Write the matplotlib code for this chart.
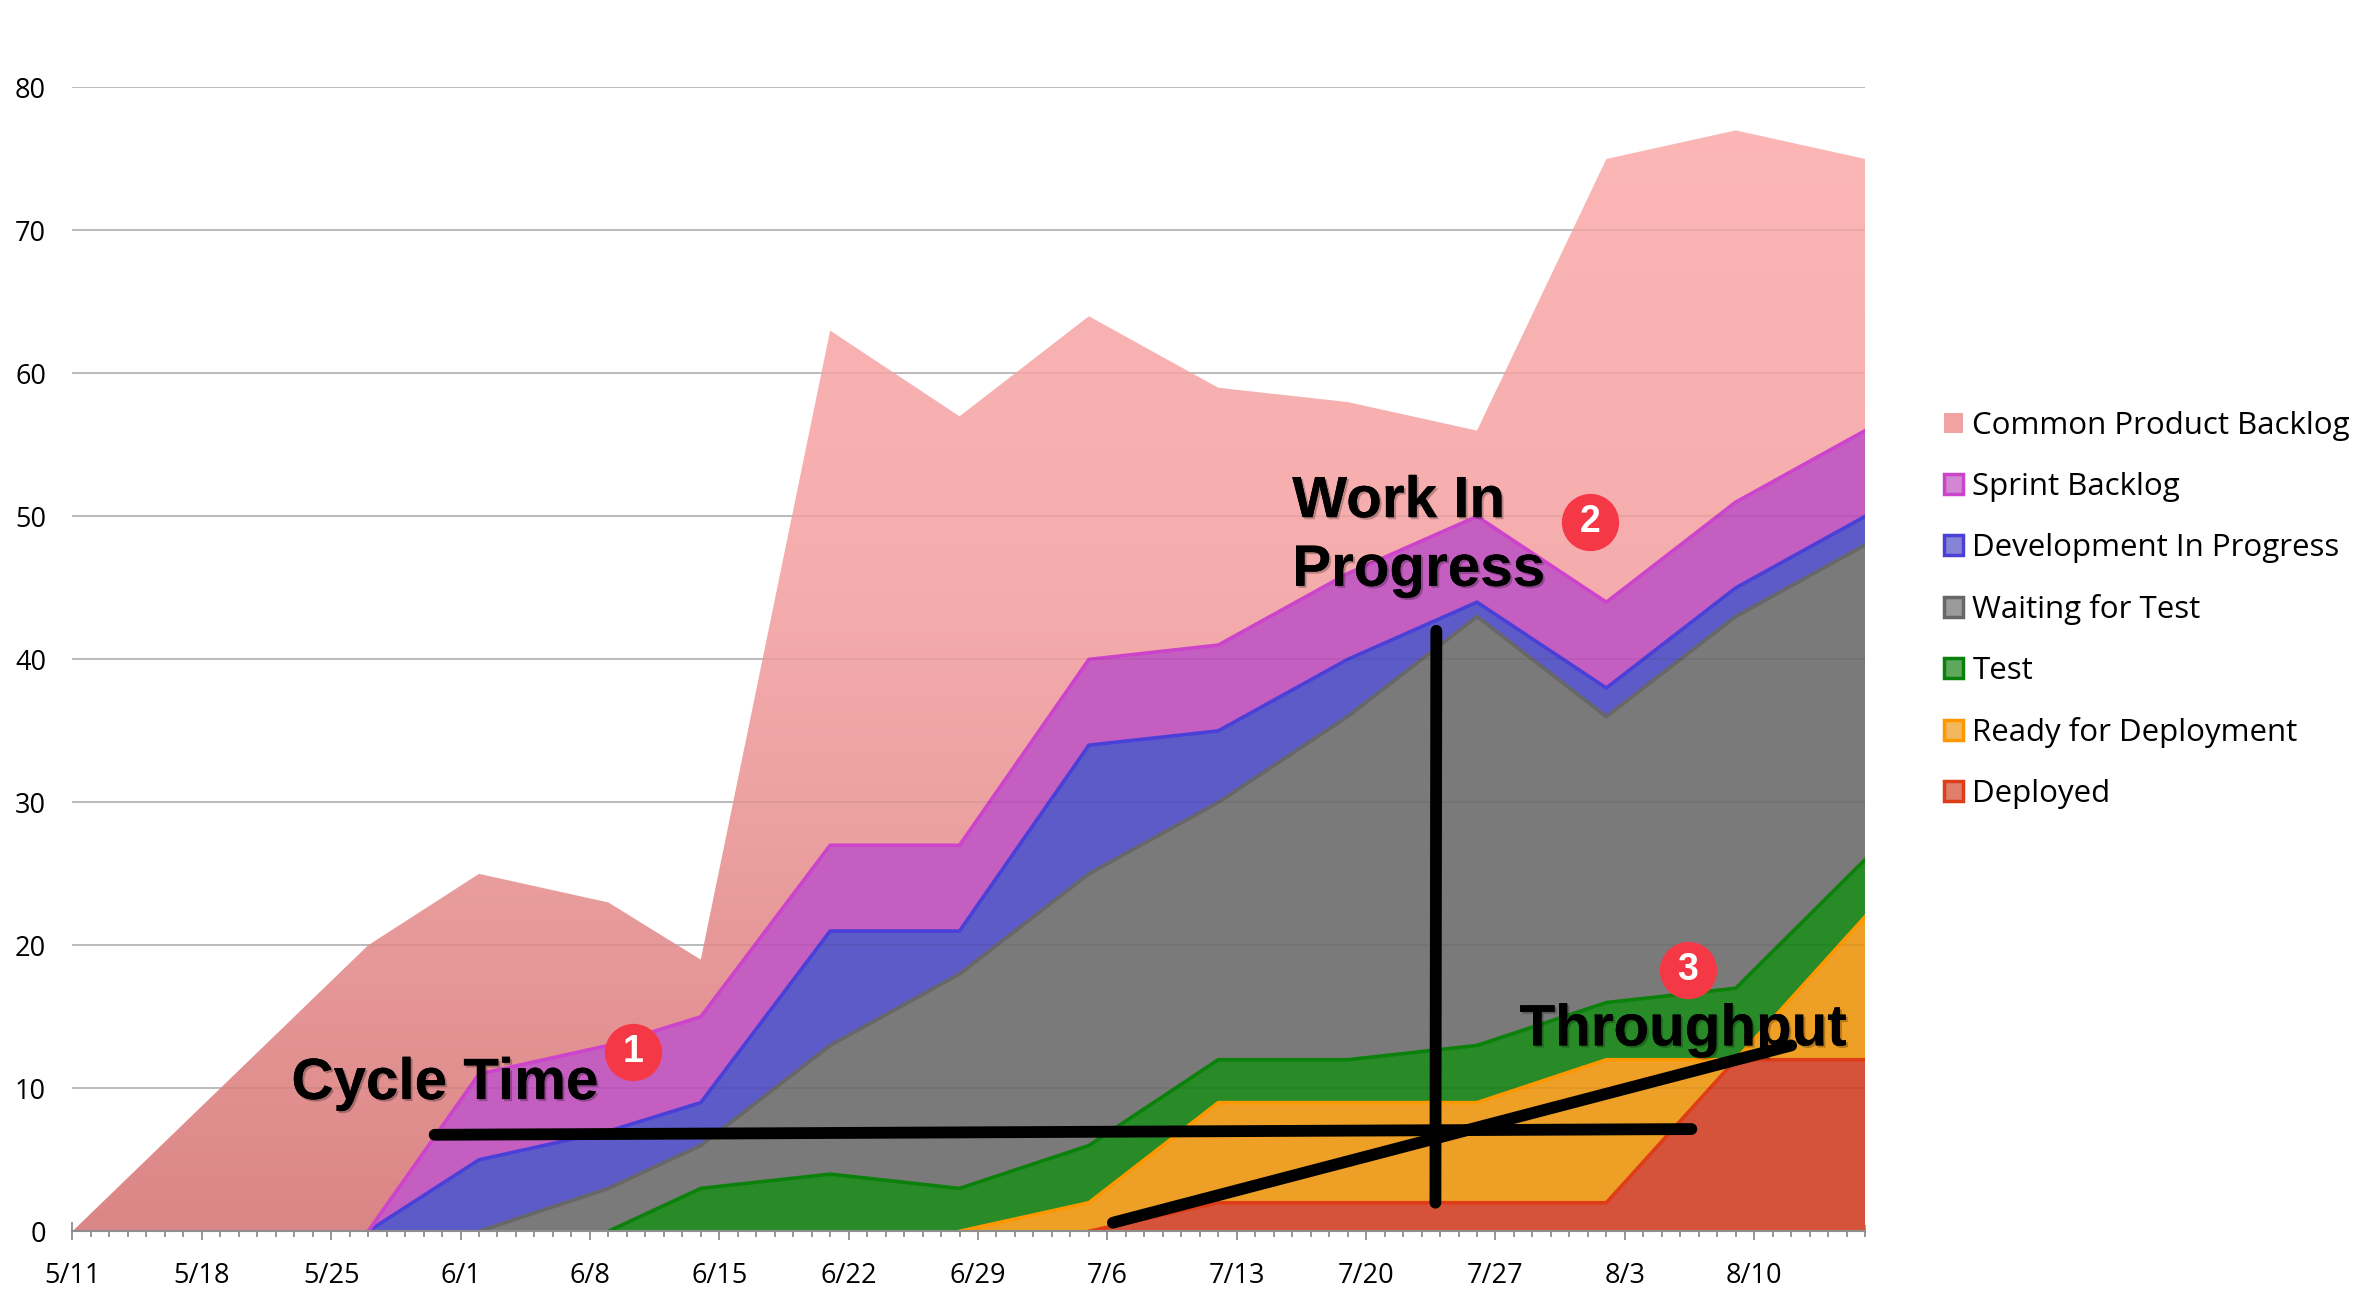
import numpy as np
import pandas as pd
import matplotlib
matplotlib.use("Agg")
import matplotlib.pyplot as plt
import matplotlib.dates as mdates
import matplotlib.patheffects as pe
from matplotlib.patches import Patch, Polygon
from matplotlib.colors import to_rgb

# Snapshot dates of the cumulative flow diagram.
dates = pd.to_datetime([
    "2020-05-11", "2020-05-27", "2020-06-02", "2020-06-09", "2020-06-14",
    "2020-06-21", "2020-06-28", "2020-07-05", "2020-07-12", "2020-07-19",
    "2020-07-26", "2020-08-02", "2020-08-09", "2020-08-16",
])

# Items per state at each date (stacked bottom -> top).
deployed = [0, 0, 0, 0, 0, 0, 0, 0, 2, 2, 2, 2, 12, 12]
ready    = [0, 0, 0, 0, 0, 0, 0, 2, 7, 7, 7, 10, 0, 10]
test     = [0, 0, 0, 0, 3, 4, 3, 4, 3, 3, 4, 4, 5, 4]
waiting  = [0, 0, 0, 3, 3, 9, 15, 19, 18, 24, 30, 20, 26, 22]
dev      = [0, 0, 5, 4, 3, 8, 3, 9, 5, 4, 1, 2, 2, 2]
sprint   = [0, 0, 6, 6, 6, 6, 6, 6, 6, 6, 6, 6, 6, 6]
common   = [0, 20, 14, 10, 4, 36, 30, 24, 18, 12, 6, 31, 26, 19]

tick_dates = ["2020-05-11", "2020-05-18", "2020-05-25", "2020-06-01", "2020-06-08",
              "2020-06-15", "2020-06-22", "2020-06-29", "2020-07-06", "2020-07-13",
              "2020-07-20", "2020-07-27", "2020-08-03", "2020-08-10"]
tick_labels = ["5/11", "5/18", "5/25", "6/1", "6/8", "6/15", "6/22", "6/29",
               "7/6", "7/13", "7/20", "7/27", "8/3", "8/10"]

# Hand-drawn annotation strokes, as (day offset from 5/11, value).
cycle_line = ([19.6, 87.6], [6.75, 7.15])
wip_line = ([73.8, 73.75], [42.0, 2.0])
throughput_line = ([56.3, 93.0], [0.6, 13.0])

layers = [
    ("Deployed", deployed, "#d4533a", "#de3d18"),
    ("Ready for Deployment", ready, "#eea026", "#ff9800"),
    ("Test", test, "#288b28", "#0b800b"),
    ("Waiting for Test", waiting, "#7a7a7a", "#676767"),
    ("Development In Progress", dev, "#5d5bc8", "#4a40d8"),
    ("Sprint Backlog", sprint, "#c45ec1", "#cc44cc"),
]

x = mdates.date2num(dates)
x0 = x[0]

fig = plt.figure(figsize=(23.66, 13.02), dpi=100)
ax = fig.add_axes([0.0306, 0.0543, 0.7577, 0.8785])

ax.set_axisbelow(True)
ax.yaxis.grid(True, color="#bcbcbc", linewidth=1.2, zorder=0)

bottom = np.zeros(len(x))
for name, vals, fill, edge in layers:
    top = bottom + np.array(vals)
    ax.fill_between(x, bottom, top, facecolor=fill, edgecolor="none",
                    zorder=2, linewidth=0)
    line = np.where(top > 0, top, np.nan)
    # keep the segment that leaves zero when the layer starts to rise
    for i in range(1, len(top)):
        if top[i] > 0 and top[i - 1] == 0:
            line[i - 1] = 0
    ax.plot(x, line, color=edge, linewidth=2.6, zorder=3, solid_joinstyle="round")
    bottom = top

# Common product backlog: vertical pink gradient clipped to its band
top = bottom + np.array(common)
verts = list(zip(x, top)) + list(zip(x[::-1], bottom[::-1]))
band = Polygon(verts, closed=True, facecolor="none", edgecolor="none")
ax.add_patch(band)
stops_v = [0, 30, 45, 80]
stops_c = [to_rgb(c) for c in ["#db8686", "#eda2a2", "#f5acac", "#fcb7b7"]]
yy = np.linspace(0, 80, 256)
grad = np.stack([np.interp(yy, stops_v, [c[k] for c in stops_c]) for k in range(3)], axis=-1)
grad = grad[:, None, :]
img = ax.imshow(grad, extent=[x[0], x[-1], 0, 80], origin="lower", aspect="auto",
                zorder=1.5)
img.set_clip_path(band)

# faint gridlines showing through the filled areas
for v in range(10, 81, 10):
    ax.axhline(v, color="black", alpha=0.06, linewidth=1.2, zorder=3.5)

ax.set_xlim(x[0], x[-1])
ax.set_ylim(0, 80)

for s in ["top", "right", "left"]:
    ax.spines[s].set_visible(False)
ax.spines["bottom"].set_color("#8e8e8e")
ax.spines["bottom"].set_linewidth(1.5)
ax.spines["bottom"].set_zorder(4)

tick_font = {"family": "Open Sans", "size": 19.5}
ax.set_xticks(mdates.date2num(pd.to_datetime(tick_dates)))
ax.set_xticklabels(tick_labels, fontdict=tick_font)
ax.xaxis.set_minor_locator(mdates.DayLocator())
ax.tick_params(axis="x", which="major", direction="inout", length=13.5, width=1.3,
               color="#8e8e8e", pad=15)
ax.tick_params(axis="x", which="minor", direction="inout", length=9.0, width=1.3,
               color="#8e8e8e")
ax.set_yticks(range(0, 81, 10))
ax.set_yticklabels([str(v) for v in range(0, 81, 10)], fontdict=tick_font)
ax.tick_params(axis="y", length=0, pad=19)

# annotation strokes
for xs, ys in (cycle_line, wip_line, throughput_line):
    ax.plot([x0 + d for d in xs], ys, color="black", linewidth=8.5,
            solid_capstyle="round", zorder=6)

shadow = [pe.withSimplePatchShadow(offset=(1.5, -1.5), shadow_rgbFace="black", alpha=0.25),
          pe.Normal()]
label_font = dict(family="Liberation Sans", weight="bold", size=42, color="black",
                  zorder=7, path_effects=shadow)
ax.text(x0 + 11.85, 10.3, "Cycle Time", ha="left", va="center", **label_font)
ax.text(x0 + 66.0, 51.0, "Work In", ha="left", va="center", **label_font)
ax.text(x0 + 66.0, 46.2, "Progress", ha="left", va="center", **label_font)
ax.text(x0 + 78.3, 14.05, "Throughput", ha="left", va="center", **label_font)

badges = [(30.33, 12.56, "1"), (82.1, 49.6, "2"), (87.4, 18.26, "3")]
for d, v, lab in badges:
    ax.scatter([x0 + d], [v], s=1700, color="#f53846", zorder=8, linewidths=0)
    ax.text(x0 + d, v, lab, ha="center", va="center", color="white",
            family="Liberation Sans", weight="bold", size=27, zorder=9)

# legend, top entry first
handles = [Patch(facecolor="#f0a3a3", edgecolor="none")]
labels = ["Common Product Backlog"]
for name, vals, fill, edge in layers[::-1]:
    light = tuple(0.75 * np.array(to_rgb(fill)) + 0.25)
    handles.append(Patch(facecolor=light, edgecolor=edge, linewidth=2.5))
    labels.append(name)
fig.legend(handles, labels, loc="upper left", bbox_to_anchor=(0.8215, 1 - 411 / 1302),
           frameon=False, prop={"family": "Open Sans", "size": 22.5},
           handlelength=0.62, handleheight=0.62, handletextpad=0.3, labelspacing=0.99,
           borderaxespad=0, borderpad=0)

fig.savefig("out.png", dpi=100)
